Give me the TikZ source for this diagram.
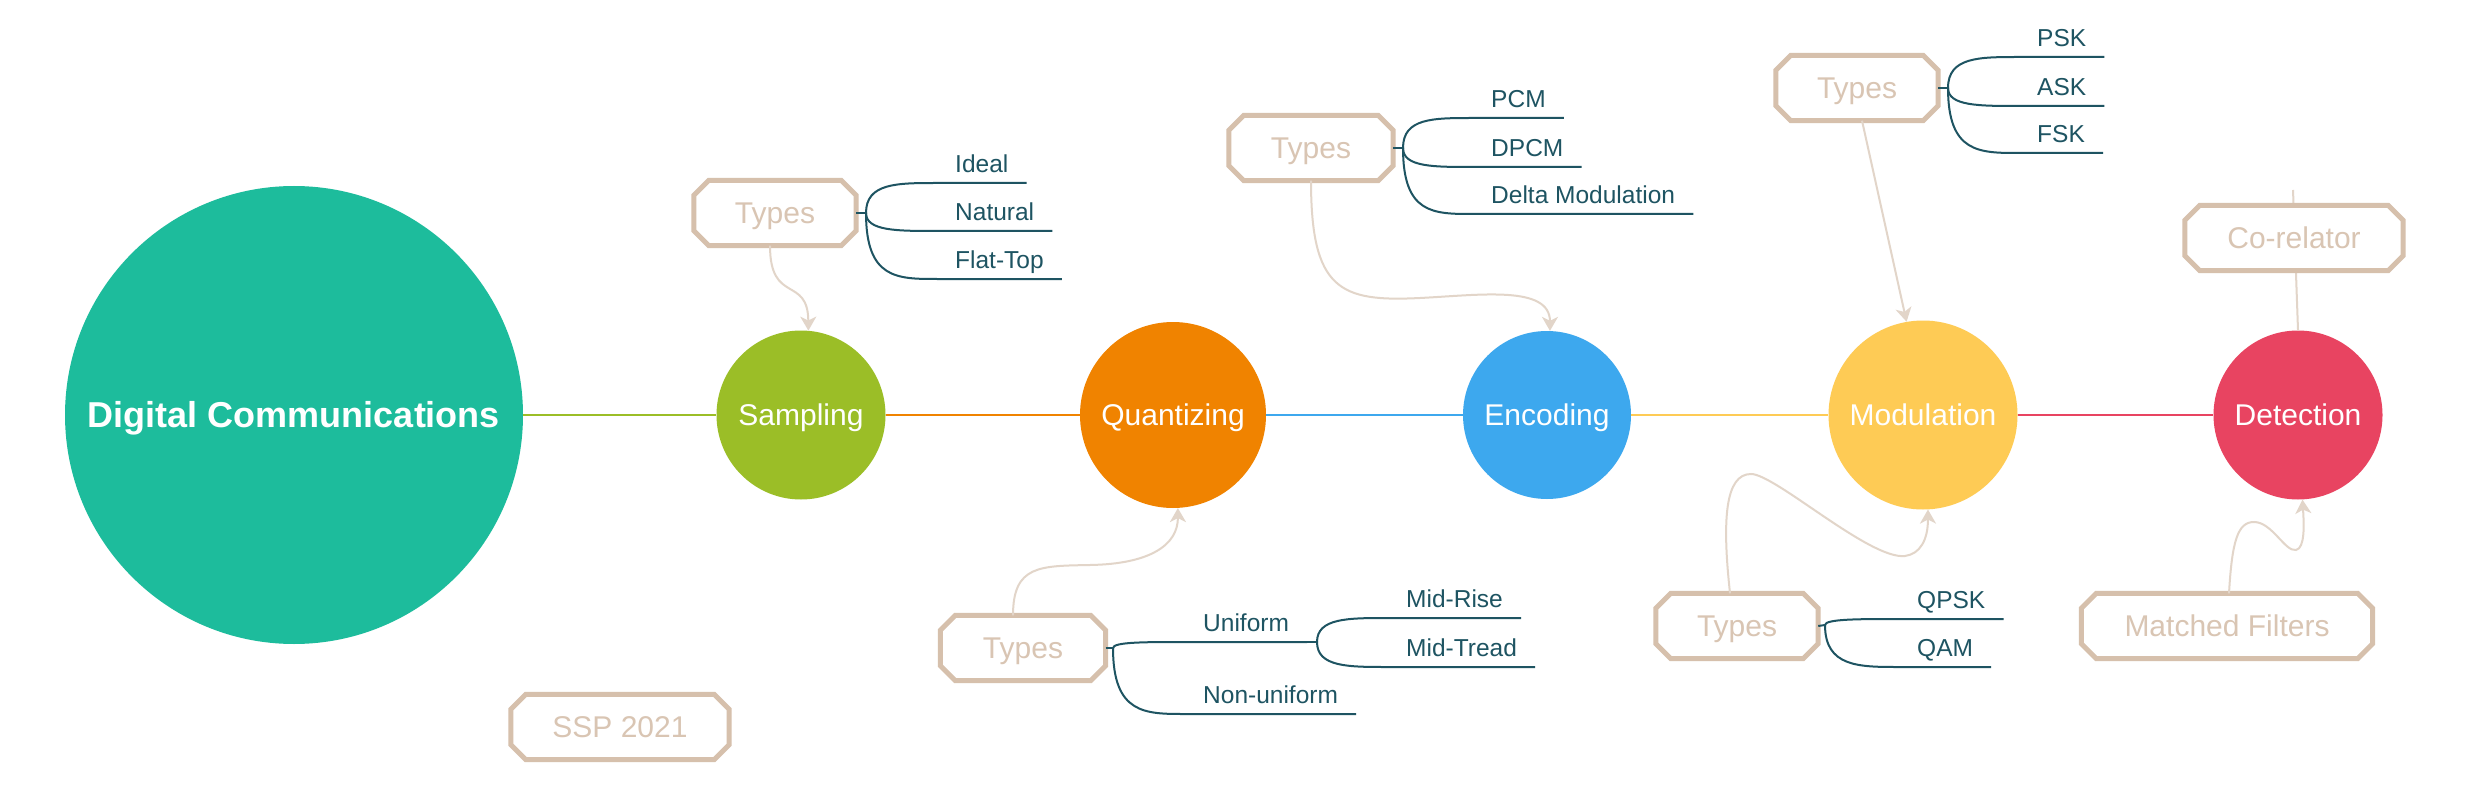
\documentclass[tikz,border=0pt]{standalone}
\usepackage{fontspec}
\setmainfont{Liberation Sans}
\usetikzlibrary{arrows.meta}
\definecolor{cmain}{HTML}{1DBC9C}
\definecolor{csamp}{HTML}{9BBE27}
\definecolor{cquan}{HTML}{F08300}
\definecolor{cenc}{HTML}{3DA8EE}
\definecolor{cmod}{HTML}{FECB55}
\definecolor{cdet}{HTML}{E84461}
\definecolor{ctan}{HTML}{D6C0AC}
\definecolor{ctantext}{HTML}{D9C5B3}
\definecolor{carrow}{HTML}{E2D5C9}
\definecolor{cleaf}{HTML}{1E5462}
\newcommand\chamfbox[1]{%
  \draw[boxline] ([xshift=15pt]#1.north west) -- ([xshift=-15pt]#1.north east)
    -- ([yshift=-15pt]#1.north east) -- ([yshift=15pt]#1.south east)
    -- ([xshift=-15pt]#1.south east) -- ([xshift=15pt]#1.south west)
    -- ([yshift=15pt]#1.south west) -- ([yshift=-15pt]#1.north west) -- cycle;}
\begin{document}
\begin{tikzpicture}[x=1pt,y=-1pt,
  topic/.style={circle, inner sep=0pt, text=white, text height=21.5pt, text depth=0pt, font=\fontsize{30}{36}\selectfont},
  tbox/.style={rectangle, fill=white, minimum height=65pt, inner sep=0pt, text=ctantext, text height=21.5pt, text depth=0pt, font=\fontsize{30}{36}\selectfont},
  boxline/.style={draw=ctan, line width=5pt, line join=miter},
  leaf/.style={anchor=south west, inner xsep=18pt, inner ysep=10pt, text depth=0pt, text=cleaf, font=\fontsize{24.5}{29}\selectfont},
  branch/.style={draw=cleaf, line width=2pt},
  link/.style={draw=carrow, line width=2pt, -{Stealth[length=14pt,width=16pt,inset=4pt]}},
  plainlink/.style={draw=carrow, line width=2pt},
  spine/.style={line width=2.5pt},
]
\fill[white] (0,0) rectangle (2472,786);
\useasboundingbox (0,0) rectangle (2472,786);

% topics
\node[topic, fill=cmain, minimum size=458pt, text height=25.8pt, font=\bfseries\fontsize{36}{42}\selectfont] (dc) at (294,415) {Digital Communications};
\node[topic, fill=csamp, minimum size=169pt] (samp) at (801,415) {Sampling};
\node[topic, fill=cquan, minimum size=186pt] (quan) at (1173,415) {Quantizing};
\node[topic, fill=cenc, minimum size=168pt] (enc) at (1547,415) {Encoding};
\node[topic, fill=cmod, minimum size=189pt] (mod) at (1923,415) {Modulation};
\node[topic, fill=cdet, minimum size=169pt] (det) at (2298,415) {Detection};

\draw[spine, csamp] (dc) -- (samp);
\draw[spine, cquan] (samp) -- (quan);
\draw[spine, cenc] (quan) -- (enc);
\draw[spine, cmod] (enc) -- (mod);
\draw[spine, cdet] (mod) -- (det);

% co-relator line (behind its box)
\coordinate (ctop) at (2293,190);
\draw[plainlink] (ctop) -- (det.north);

% boxes
\node[tbox, minimum width=162pt] (t1) at (775,213) {Types};
\node[tbox, minimum width=164pt] (t2) at (1311,148) {Types};
\node[tbox, minimum width=165pt] (t3) at (1023,648) {Types};
\node[tbox, minimum width=162pt] (t4) at (1857,88) {Types};
\node[tbox, minimum width=162pt] (t5) at (1737,626) {Types};
\node[tbox, minimum width=218pt] (cor) at (2294,238) {Co-relator};
\node[tbox, minimum width=291pt] (mf) at (2227,626) {Matched Filters};
\node[tbox, minimum width=218pt] (ssp) at (620,727) {SSP 2021};
\chamfbox{t1}\chamfbox{t2}\chamfbox{t3}\chamfbox{t4}\chamfbox{t5}
\chamfbox{cor}\chamfbox{mf}\chamfbox{ssp}

% leaves of t1
\node[leaf] (l11) at (937,183) {Ideal};
\node[leaf] (l12) at (937,231) {Natural};
\node[leaf] (l13) at (937,279) {Flat-Top};
\coordinate (f1) at (866,213);
\draw[branch] (t1.east) -- (f1);
\foreach \l in {l11,l12,l13}
  \draw[branch] (f1) .. controls (f1 |- \l.south west) and ([xshift=-40pt]\l.south west) .. (\l.south west) -- (\l.south east);

% leaves of t2
\node[leaf] (l21) at (1473,118) {PCM};
\node[leaf] (l22) at (1473,167) {DPCM};
\node[leaf] (l23) at (1473,214) {Delta Modulation};
\coordinate (f2) at (1403,148);
\draw[branch] (t2.east) -- (f2);
\foreach \l in {l21,l22,l23}
  \draw[branch] (f2) .. controls (f2 |- \l.south west) and ([xshift=-40pt]\l.south west) .. (\l.south west) -- (\l.south east);

% leaves of t3
\node[leaf] (l31) at (1185,642) {Uniform};
\node[leaf] (l32) at (1185,714) {Non-uniform};
\coordinate (f3) at (1113,648);
\draw[branch] (t3.east) -- (f3);
\foreach \l in {l31,l32}
  \draw[branch] (f3) .. controls (f3 |- \l.south west) and ([xshift=-40pt]\l.south west) .. (\l.south west) -- (\l.south east);
\node[leaf] (l311) at (1388,618) {Mid-Rise};
\node[leaf] (l312) at (1388,667) {Mid-Tread};
\coordinate (f31) at (1317,642);
\draw[branch] (l31.south east) -- (f31);
\foreach \l in {l311,l312}
  \draw[branch] (f31) .. controls (f31 |- \l.south west) and ([xshift=-40pt]\l.south west) .. (\l.south west) -- (\l.south east);

% leaves of t4
\node[leaf] (l41) at (2019,57) {PSK};
\node[leaf] (l42) at (2019,106) {ASK};
\node[leaf] (l43) at (2019,153) {FSK};
\coordinate (f4) at (1948,88);
\draw[branch] (t4.east) -- (f4);
\foreach \l in {l41,l42,l43}
  \draw[branch] (f4) .. controls (f4 |- \l.south west) and ([xshift=-40pt]\l.south west) .. (\l.south west) -- (\l.south east);

% leaves of t5
\node[leaf] (l51) at (1899,619) {QPSK};
\node[leaf] (l52) at (1899,667) {QAM};
\coordinate (f5) at (1825,625);
\draw[branch] (t5.east) -- (f5);
\foreach \l in {l51,l52}
  \draw[branch] (f5) .. controls (f5 |- \l.south west) and ([xshift=-40pt]\l.south west) .. (\l.south west) -- (\l.south east);

% links to topics
\draw[link] ([xshift=-5pt]t1.south) .. controls (770,305) and (808,275) .. (samp.85);
\draw[link] (t2.south) .. controls (1311,290) and (1340,302) .. (1420,298) .. controls (1480,295) and (1550,285) .. (enc.88);
\draw[link] ([xshift=-10pt]t3.north) .. controls (1013,565) and (1040,566) .. (1090,565) .. controls (1150,564) and (1178,545) .. (quan.-87);
\draw[link] ([xshift=5pt]t4.south) -- (mod.100);
\draw[link] ([xshift=-7pt]t5.north) .. controls (1722,520) and (1725,474) .. (1751,474) .. controls (1775,474) and (1870,560) .. (1905,556) .. controls (1920,554) and (1928,540) .. (mod.-87);
\draw[link] ([xshift=2pt]mf.north) .. controls (2232,540) and (2238,522) .. (2254,522) .. controls (2272,522) and (2285,552) .. (2296,550) .. controls (2305,548) and (2304,525) .. (det.-87);
\end{tikzpicture}
\end{document}
